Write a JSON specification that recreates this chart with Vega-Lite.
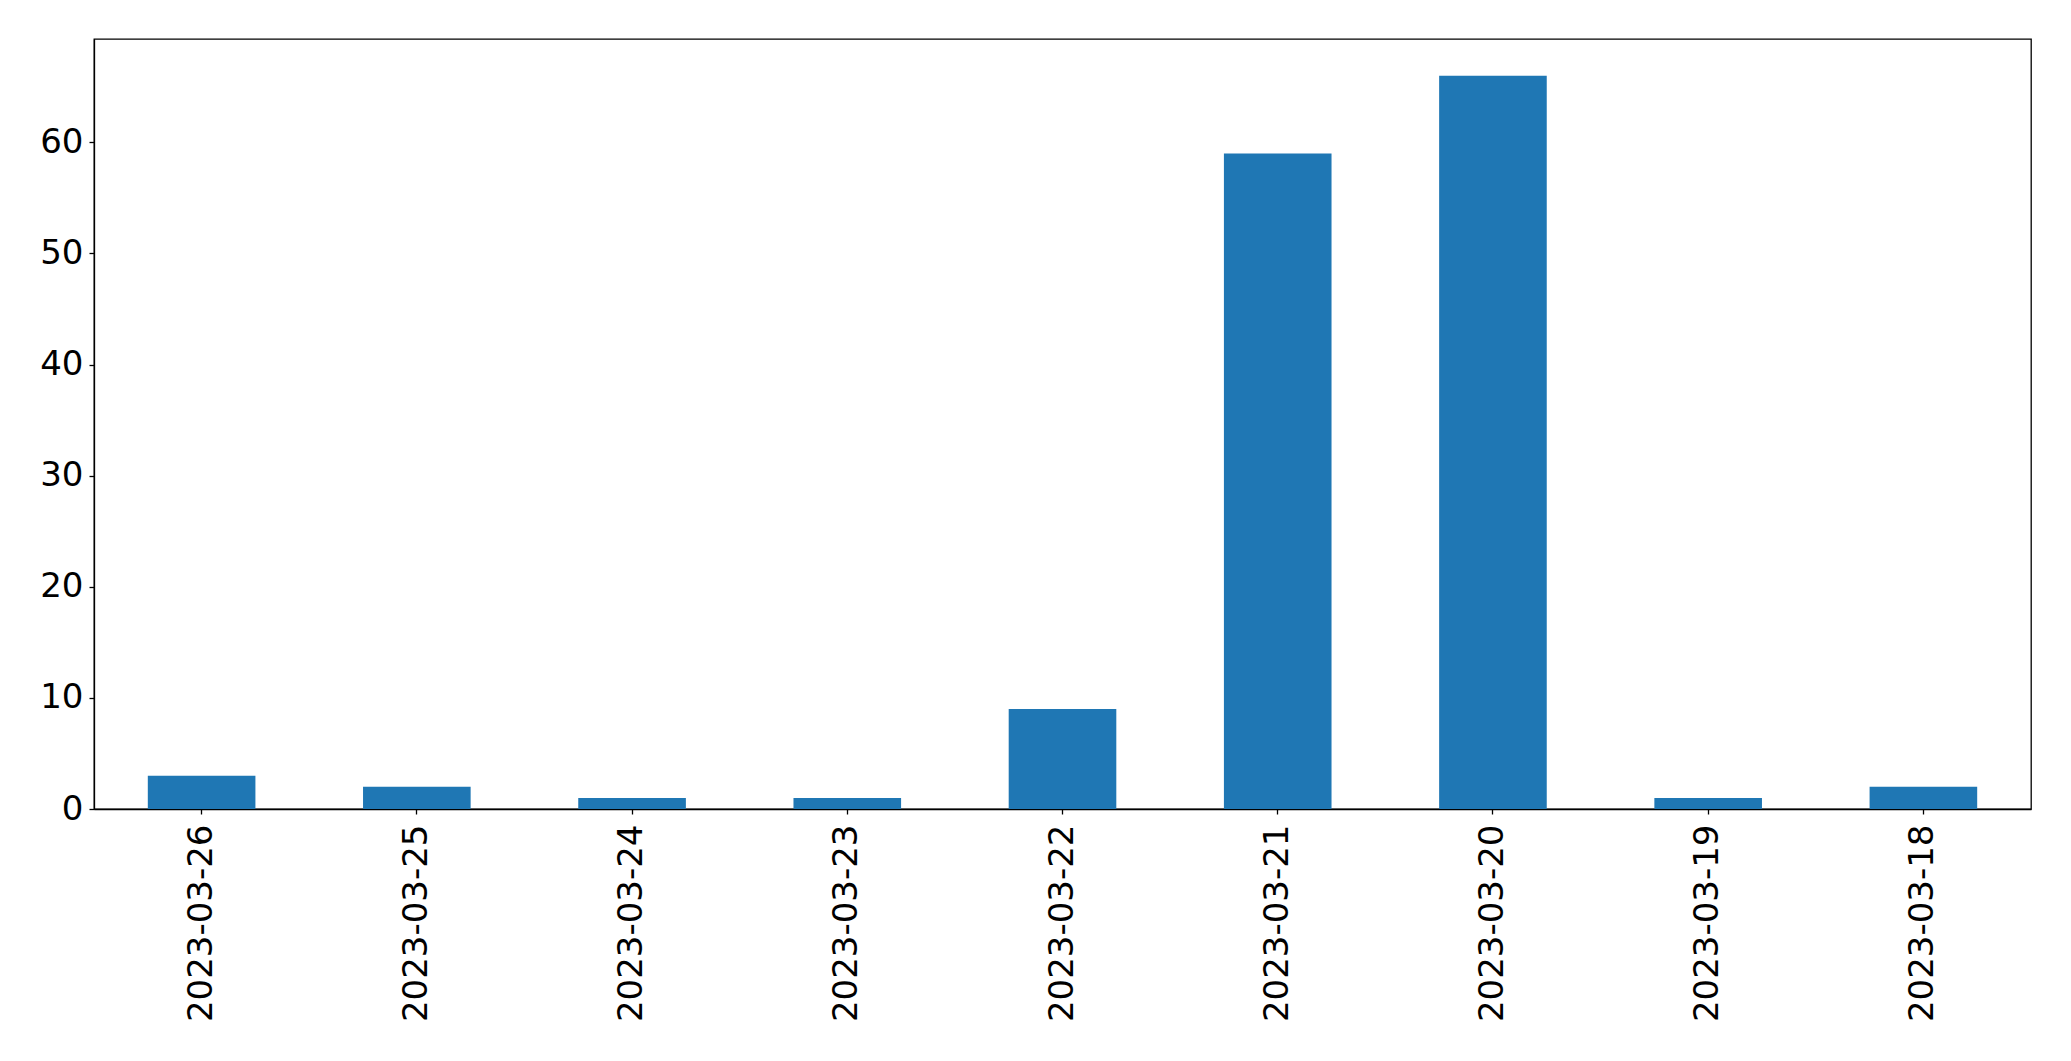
{
  "$schema": "https://vega.github.io/schema/vega-lite/v6.json",
  "autosize": {"type": "none"},
  "width": 1937,
  "height": 770,
  "padding": {"left": 94, "top": 39, "right": 40, "bottom": 252},
  "background": "white",
  "data": {
    "values": [
      {"date": "2023-03-26", "count": 3},
      {"date": "2023-03-25", "count": 2},
      {"date": "2023-03-24", "count": 1},
      {"date": "2023-03-23", "count": 1},
      {"date": "2023-03-22", "count": 9},
      {"date": "2023-03-21", "count": 59},
      {"date": "2023-03-20", "count": 66},
      {"date": "2023-03-19", "count": 1},
      {"date": "2023-03-18", "count": 2}
    ]
  },
  "config": {
    "view": {"stroke": "black", "strokeWidth": 1.3},
    "font": "DejaVu Sans",
    "axis": {
      "labelFont": "DejaVu Sans",
      "labelFontSize": 34,
      "labelColor": "black",
      "labelLimit": 0,
      "domainColor": "black",
      "tickColor": "black",
      "tickSize": 5,
      "tickWidth": 1.3,
      "domainWidth": 1.3,
      "grid": false,
      "title": null
    }
  },
  "mark": {"type": "bar", "color": "#1f77b4"},
  "encoding": {
    "x": {
      "field": "date",
      "type": "nominal",
      "sort": null,
      "scale": {"paddingInner": 0.5, "paddingOuter": 0.25},
      "axis": {"labelAngle": -90, "labelAlign": "right", "labelBaseline": "middle", "labelPadding": 10}
    },
    "y": {
      "field": "count",
      "type": "quantitative",
      "scale": {"domain": [0, 69.3], "nice": false},
      "axis": {"values": [0, 10, 20, 30, 40, 50, 60], "labelPadding": 6}
    }
  }
}
